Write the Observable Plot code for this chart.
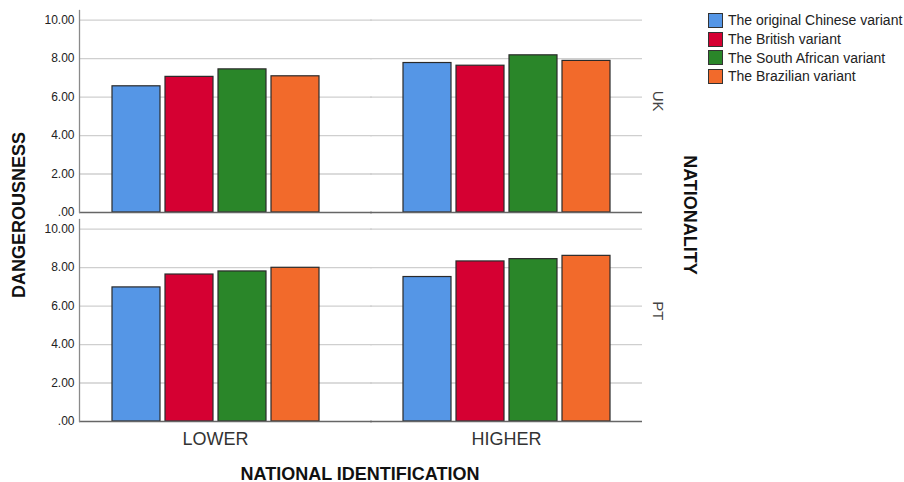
<!DOCTYPE html>
<html>
<head>
<meta charset="utf-8">
<script src="https://cdn.jsdelivr.net/npm/d3@7"></script>
<script src="https://cdn.jsdelivr.net/npm/@observablehq/plot@0.6"></script>
<style>
  html, body { margin: 0; padding: 0; background: #fff; }
  #wrap { position: relative; width: 904px; height: 482px; font-family: "Liberation Sans", Arial, sans-serif; overflow: hidden; }
  .title { position: absolute; font-weight: bold; font-size: 18px; color: #111; white-space: nowrap; }
  #legend { position: absolute; left: 708px; top: 11px; font-size: 14px; color: #222; }
  #legend .row { display: flex; align-items: center; height: 18.7px; }
  #legend .sw { width: 13px; height: 13px; border: 1px solid #333; margin-right: 5px; box-sizing: content-box; }
</style>
</head>
<body>
<div id="wrap"></div>
<script>
const nationalities = ["UK", "PT"];
const identifications = ["LOWER", "HIGHER"];
const variants = ["The original Chinese variant", "The British variant", "The South African variant", "The Brazilian variant"];
const colors = ["#5596E6", "#D50032", "#2A8629", "#F26A2B"];
const ukLower  = [6.56, 7.05, 7.44, 7.08];
const ukHigher = [7.77, 7.63, 8.17, 7.88];
const ptLower  = [6.97, 7.64, 7.80, 7.99];
const ptHigher = [7.51, 8.32, 8.44, 8.61];
const yTicks = [0, 2, 4, 6, 8, 10];
const gridValues = [2, 4, 6, 8, 10];

const series = {UK: {LOWER: ukLower, HIGHER: ukHigher}, PT: {LOWER: ptLower, HIGHER: ptHigher}};
const rows = [];
for (const n of nationalities) for (const g of identifications) variants.forEach((v, i) => {
  rows.push({nationality: n, identification: g, variant: v, value: series[n][g][i]});
});

const fmt = d => d === 0 ? ".00" : d.toFixed(2);

const chart = Plot.plot({
  width: 904,
  height: 482,
  marginLeft: 79,
  marginRight: 262,
  marginTop: 9,
  marginBottom: 60,
  style: {fontFamily: "'Liberation Sans', Arial, sans-serif", fontSize: "12px", color: "#222", background: "#fff", overflow: "visible"},
  fx: {domain: identifications, paddingInner: 0.067, paddingOuter: 0},
  fy: {domain: nationalities, paddingInner: 0.0333, paddingOuter: 0, axis: null},
  x: {domain: variants, paddingInner: 0.1, paddingOuter: 0.571, axis: null},
  y: {domain: [0, 10.5]},
  color: {domain: variants, range: colors},
  marks: [
    Plot.ruleY(gridValues, {y: d => d, fx: () => "LOWER", stroke: "#cfcfcf", strokeWidth: 1.3, insetRight: -21}),
    Plot.ruleY(gridValues, {y: d => d, fx: () => "HIGHER", stroke: "#cfcfcf", strokeWidth: 1.3}),
    Plot.barY(rows, {fx: "identification", fy: "nationality", x: "variant", y: "value", fill: "variant", stroke: "#2a2a2a", strokeWidth: 1.2}),
    Plot.ruleY([0], {y: d => d, fx: () => "LOWER", stroke: "#666", strokeWidth: 1.3, insetRight: -21}),
    Plot.ruleY([0], {y: d => d, fx: () => "HIGHER", stroke: "#666", strokeWidth: 1.3}),
    Plot.frame({anchor: "left", fx: () => "LOWER", stroke: "#8a8a8a", strokeWidth: 1.3}),
    Plot.axisY({ticks: yTicks, tickFormat: fmt, tickSize: 0, tickPadding: 5, fontSize: 12, fill: "#222", label: null}),
    Plot.axisFx({anchor: "bottom", tickSize: 0, tickPadding: 11, fontSize: 18, fill: "#333", label: null}),
    Plot.text(nationalities, {fy: d => d, fx: () => "HIGHER", text: d => d, frameAnchor: "right", rotate: 90, dx: 15, fontSize: 15, fill: "#444"})
  ]
});

const wrap = document.getElementById("wrap");
wrap.appendChild(chart);

function addTitle(text, left, top, rot) {
  const d = document.createElement("div");
  d.className = "title";
  d.textContent = text;
  d.style.left = left + "px";
  d.style.top = top + "px";
  d.style.transform = `translate(-50%, -50%) rotate(${rot}deg)`;
  wrap.appendChild(d);
}
addTitle("DANGEROUSNESS", 19, 215, -90);
addTitle("NATIONALITY", 689, 215, 90);
addTitle("NATIONAL IDENTIFICATION", 360, 474, 0);

const legend = document.createElement("div");
legend.id = "legend";
variants.forEach((v, i) => {
  const r = document.createElement("div");
  r.className = "row";
  const sw = document.createElement("span");
  sw.className = "sw";
  sw.style.background = colors[i];
  const t = document.createElement("span");
  t.textContent = v;
  r.appendChild(sw); r.appendChild(t);
  legend.appendChild(r);
});
wrap.appendChild(legend);
</script>
</body>
</html>
